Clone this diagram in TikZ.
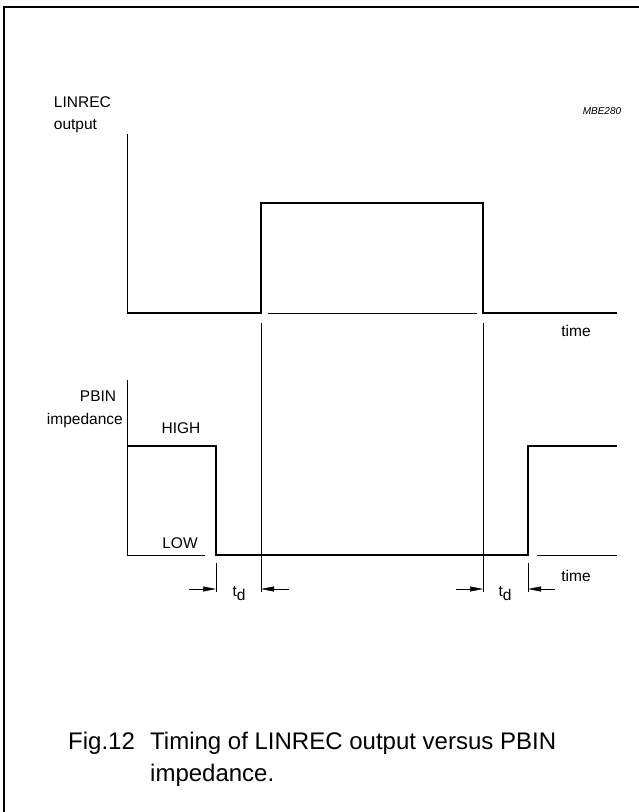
\documentclass[tikz,border=0pt]{standalone}
\usepackage{fontspec}
\setmainfont{Liberation Sans}
\usetikzlibrary{arrows.meta}
\tikzstyle{signal}=[line width=1.7pt, line join=miter]
\tikzstyle{axis}=[line width=0.7pt]
\tikzstyle{guide}=[line width=0.5pt]
\tikzstyle{lbl}=[font=\fontsize{15.5}{22}\selectfont, inner sep=0pt]
\tikzstyle{captext}=[font=\fontsize{24}{32}\selectfont, anchor=base west, inner sep=0pt]
\tikzstyle{gap}=[guide, -{Triangle[length=13pt,width=5pt]}]
\newcommand{\tdlabel}{t\raisebox{-0.5ex}{d}}

\begin{document}
\begin{tikzpicture}[x=1pt, y=-1pt]
  \useasboundingbox (0,0) rectangle (639,812);
  % frame
  \draw[line width=1.4pt] (4,812) -- (4,7) -- (639,7);

  % LINREC output
  \coordinate (l0) at (127,134);
  \coordinate (l1) at (127,313);
  \coordinate (lr) at (261,313);
  \coordinate (lf) at (483,313);
  \coordinate (le) at (617,313);
  \draw[axis] (l0) -- (l1);
  \draw[signal] (l1) -- (lr) |- (483,203) -- (lf) -- (le);
  \draw[guide] (268,313) -- (477,313);
  \node[lbl, align=left, anchor=north east] (lname) at (111,96) {LINREC\\output};
  \node[lbl, anchor=base] (ltime) at (576,336) {time};
  \node[font=\fontsize{10}{12}\selectfont\itshape, inner sep=0pt] (code) at (602,111) {MBE280};

  % PBIN impedance
  \coordinate (p0) at (127,380);
  \coordinate (ph) at (127,446);
  \coordinate (pf) at (216,446);
  \coordinate (pr) at (528,555);
  \coordinate (pe) at (617,446);
  \draw[axis] (p0) -- (127,555) -- (205,555);
  \draw[axis] (537,555) -- (617,555);
  \draw[signal] (ph) -- (pf) |- (pr) |- (pe);
  \node[lbl, anchor=base] (pbin) at (98,401) {PBIN};
  \node[lbl, anchor=base east] (pname) at (123,424) {impedance};
  \node[lbl, anchor=base] (phigh) at (181,433) {HIGH};
  \node[lbl, anchor=base] (plow) at (180,548) {LOW};
  \node[lbl, anchor=base] (ptime) at (576,581) {time};

  % delay guides
  \draw[guide] (261,323) -- (261,592);
  \draw[guide] (483,323) -- (483,592);
  \draw[guide] (216,563) -- (216,592);
  \draw[guide] (528,563) -- (528,592);
  \coordinate (a1) at (216,589);
  \coordinate (a2) at (261,589);
  \coordinate (a3) at (483,589);
  \coordinate (a4) at (528,589);
  \draw[gap] (189,589) -- (a1);
  \draw[gap] (289,589) -- (a2);
  \draw[gap] (456,589) -- (a3);
  \draw[gap] (555,589) -- (a4);
  \node[lbl, anchor=base] (td1) at (239,596) {\tdlabel};
  \node[lbl, anchor=base] (td2) at (505,596) {\tdlabel};

  % caption
  \node[captext] (fig) at (68,749) {Fig.12};
  \node[captext] (cap1) at (150,749) {Timing of LINREC output versus PBIN};
  \node[captext] (cap2) at (150,781) {impedance.};
\end{tikzpicture}
\end{document}
